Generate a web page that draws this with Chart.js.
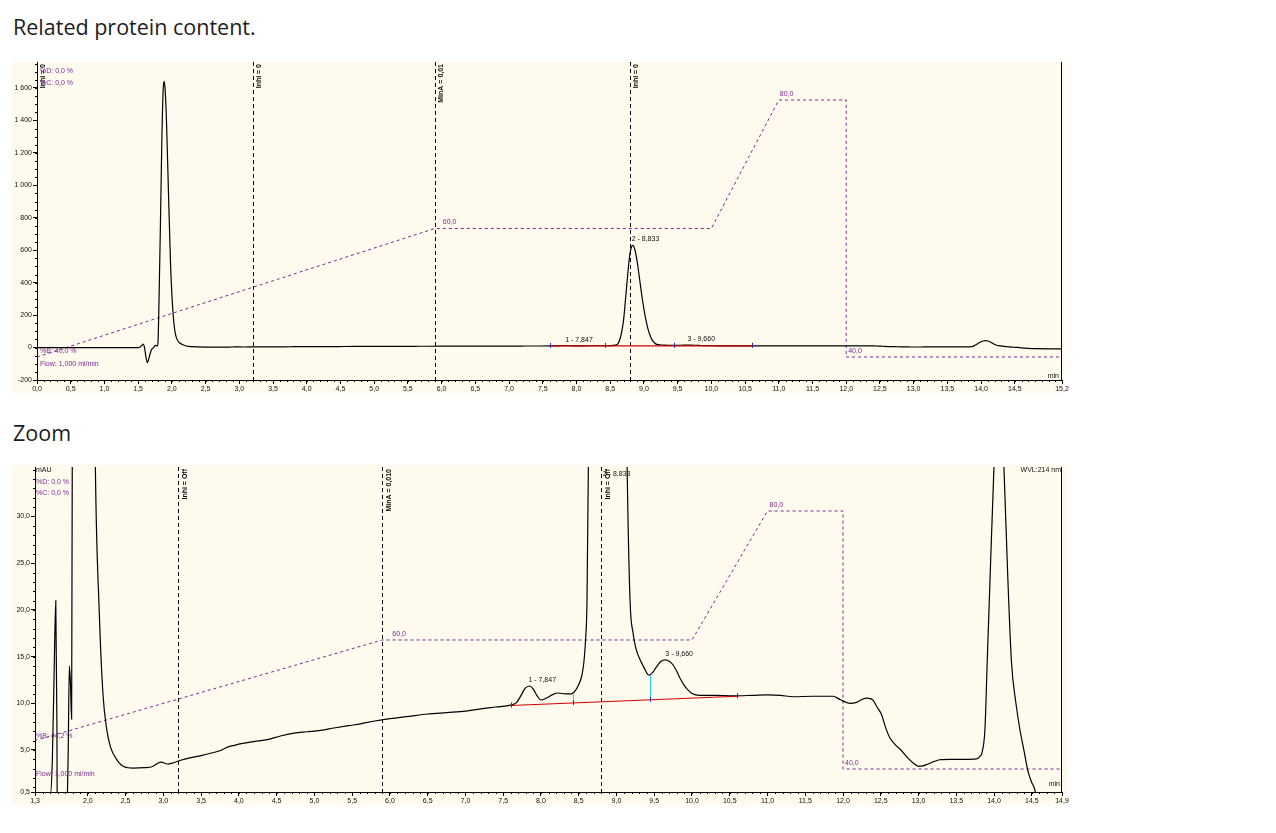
<!DOCTYPE html>
<html>
<head>
<meta charset="utf-8">
<script src="https://cdn.jsdelivr.net/npm/chart.js@4.4.1/dist/chart.umd.min.js"></script>
<style>
  body { margin: 0; background: #fff; width: 1276px; height: 833px; position: relative; overflow: hidden; }
  .title { position: absolute; left: 13px; font-family: "Open Sans", sans-serif; font-size: 21.5px; color: #1c1c1c; line-height: 28px; }
  .box { position: absolute; left: 12px; width: 1064px; }
</style>
</head>
<body>
<div class="title" style="top:13px">Related protein content.</div>
<div class="box" style="top:62px;height:331px"><canvas id="full"></canvas></div>
<div class="title" style="top:419px">Zoom</div>
<div class="box" style="top:465px;height:340px"><canvas id="zoom"></canvas></div>

<script>
// UV 214 nm trace: retention time (min) and signal (mAU)
const sigTime = [0.0, 1.50, 1.53, 1.555, 1.575, 1.59, 1.60, 1.62, 1.635, 1.65, 1.68, 1.70, 1.72, 1.74, 1.755, 1.77, 1.785,
  1.795, 1.81, 1.83, 1.85, 1.87, 1.885, 1.90, 1.92, 1.95, 1.98, 2.00, 2.03, 2.06, 2.10, 2.15, 2.20, 2.25, 2.30, 2.38, 2.48,
  2.60, 2.75, 2.85, 2.93, 2.97, 3.05, 3.12, 3.23, 3.35, 3.50, 3.65, 3.76, 3.85, 3.94, 4.05, 4.20, 4.38, 4.55, 4.73,
  4.90, 5.08, 5.26, 5.45, 5.61, 5.80, 6.00, 6.25, 6.50, 6.75, 7.00, 7.20, 7.40, 7.60, 7.68, 7.74, 7.79, 7.85, 7.90,
  7.95, 8.00, 8.08, 8.16, 8.23, 8.32, 8.40, 8.46, 8.50, 8.54, 8.57, 8.59, 8.61, 8.64, 8.67, 8.70, 8.73, 8.76, 8.79,
  8.815, 8.835, 8.86, 8.90, 8.94, 8.98, 9.02, 9.06, 9.10, 9.14, 9.18, 9.22, 9.26, 9.30, 9.36, 9.43, 9.48, 9.53, 9.59,
  9.645, 9.70, 9.75, 9.80, 9.84, 9.90, 9.95, 10.0, 10.1, 10.3, 10.55, 10.8, 11.0, 11.17, 11.34, 11.6, 11.87, 11.96,
  12.09, 12.18, 12.25, 12.31, 12.36, 12.40, 12.45, 12.51, 12.56, 12.62, 12.70, 12.76, 12.85, 12.93, 13.0, 13.06,
  13.11, 13.20, 13.28, 13.42, 13.60, 13.77, 13.81, 13.84, 13.88, 13.91, 13.95, 14.0, 14.03, 14.065, 14.10, 14.13,
  14.18, 14.23, 14.29, 14.34, 14.40, 14.45, 14.50, 14.54, 14.60, 14.70, 14.80, 15.0, 15.2];
const sigMAU = [0, 0, 4, 14, 21, 8, -15, -70, -93, -80, -35, -12, -4, 5, 14, 12, 8.3,
  40, 300, 750, 1250, 1580, 1640, 1590, 1400, 950, 520, 330, 150, 70, 35, 20, 11, 7.2, 5.3, 4.0, 3.2,
  3.05, 3.1, 3.2, 3.6, 3.7, 3.5, 3.6, 3.9, 4.15, 4.4, 4.7, 4.95, 5.3, 5.5, 5.7, 5.9, 6.1, 6.5, 6.8,
  6.95, 7.1, 7.35, 7.6, 7.8, 8.1, 8.35, 8.6, 8.85, 9.0, 9.15, 9.4, 9.6, 9.8, 10.1, 10.9, 11.6, 11.85, 11.5,
  10.8, 10.35, 10.6, 10.95, 11.1, 11.0, 11.0, 11.4, 12.0, 12.9, 14.5, 16.7, 21, 45, 95, 175, 310, 450, 570,
  620, 630, 612, 530, 410, 290, 190, 115, 65, 36, 21, 17.5, 15.8, 14.9, 13.9, 13.0, 13.3, 13.9, 14.5,
  14.65, 14.5, 14.1, 13.4, 12.7, 11.9, 11.4, 11.05, 10.85, 10.85, 10.8, 10.85, 10.9, 10.85, 10.7, 10.75, 10.75, 10.4,
  10.0, 10.1, 10.4, 10.55, 10.5, 10.3, 9.6, 8.8, 7.5, 6.3, 5.5, 5.05, 4.2, 3.6, 3.25, 3.3,
  3.45, 3.75, 3.95, 4.0, 4.0, 4.05, 4.3, 4.7, 7.3, 14.5, 24, 35.5, 40.5, 43, 40.5, 35.5,
  24, 14.5, 10, 7.3, 4.8, 2.7, 1.5, 0.75, -2, -5, -7, -8, -8];

// gradient program, %B
const gradTime = [0, 5.9, 10.0, 11.0, 12.0, 12.0, 15.2];
const gradB = [40, 60, 60, 80, 80, 40, 40];
const gradMarkTime = [5.9, 11.0, 12.0];
const gradMarkB = [60, 80, 40];
const gradMarkText = ['60,0', '80,0', '40,0'];

// integration baseline and peak delimiters
const baseTime = [7.6, 10.6];
const baseMAU = [9.76, 10.75];
const delimTime = [7.6, 8.42, 9.45, 10.6];
const delimBase = [9.76, 10.03, 10.37, 10.75];
const delimTop = [9.8, 11.0, 13.0, 10.8];

// peaks
const peakTime = [7.847, 8.833, 9.660];
const peakApex = [11.85, 630, 14.65];
const peakName = ['1 - 7,847', '2 - 8,833', '3 - 9,660'];

// program events
const eventTime = [0, 3.2, 5.9, 8.8];
const eventFull = ['Inhi = 0', 'Inhi = 0', 'MinA = 0,01', 'Inhi = 0'];
const eventZoom = ['', 'Inhi = Off', 'MinA = 0,010', 'Inhi = Off'];

// axis ticks
const fullXTicks = [0, 0.5, 1.0, 1.5, 2.0, 2.5, 3.0, 3.5, 4.0, 4.5, 5.0, 5.5, 6.0, 6.5, 7.0, 7.5, 8.0, 8.5, 9.0, 9.5,
  10.0, 10.5, 11.0, 11.5, 12.0, 12.5, 13.0, 13.5, 14.0, 14.5, 15.2];
const fullYTicks = [-200, 0, 200, 400, 600, 800, 1000, 1200, 1400, 1600];
const zoomXTicks = [1.3, 2.0, 2.5, 3.0, 3.5, 4.0, 4.5, 5.0, 5.5, 6.0, 6.5, 7.0, 7.5, 8.0, 8.5, 9.0, 9.5,
  10.0, 10.5, 11.0, 11.5, 12.0, 12.5, 13.0, 13.5, 14.0, 14.5, 14.9];
const zoomYTicks = [0.5, 5, 10, 15, 20, 25, 30];

const CREAM = '#fffaee';
const PURPLE = '#7a2a94';
const SMALL = '7px "Liberation Sans", Arial, sans-serif';
const EVFONT = 'bold 7px "Liberation Sans Narrow", "Liberation Sans", sans-serif';

function fmt1(v) { return v.toFixed(1).replace('.', ','); }
function fmtInt(v) { return String(v).replace(/\B(?=(\d{3})+(?!\d))/g, ' '); }

function text(ctx, s, x, y, color, align, font) {
    ctx.fillStyle = color || '#111';
    ctx.font = font || SMALL;
    ctx.textAlign = align || 'left';
    ctx.textBaseline = 'middle';
    ctx.fillText(s, x, y);
}

function chromPlugin(o) {
    return {
        id: 'chrom',
        beforeDraw(chart) {
            const { ctx, chartArea: a } = chart;
            ctx.save();
            ctx.fillStyle = CREAM;
            ctx.fillRect(0, 0, a.right + o.creamRight, chart.height);
            ctx.restore();
        },
        beforeDatasetsDraw(chart) {
            const { ctx, chartArea: a, scales: { x } } = chart;
            ctx.save();
            ctx.strokeStyle = '#000';
            ctx.lineWidth = 1;
            ctx.setLineDash([4, 3]);
            eventTime.forEach(t => {
                if (t <= x.min || t > x.max) return;
                const px = Math.round(x.getPixelForValue(t)) + 0.5;
                ctx.beginPath();
                ctx.moveTo(px, a.top);
                ctx.lineTo(px, a.bottom);
                ctx.stroke();
            });
            ctx.restore();
        },
        afterDatasetsDraw(chart) {
            const { ctx, chartArea: a, scales: { x, y, y2 } } = chart;
            ctx.save();
            // peak delimiters
            ctx.lineWidth = 1;
            delimTime.forEach((t, i) => {
                const px = Math.round(x.getPixelForValue(t)) + 0.5;
                const pb = y.getPixelForValue(delimBase[i]);
                if (o.cyan && i > 0 && i < delimTime.length - 1) {
                    ctx.strokeStyle = '#20d8e8';
                    ctx.beginPath();
                    ctx.moveTo(px, pb);
                    ctx.lineTo(px, y.getPixelForValue(delimTop[i]));
                    ctx.stroke();
                }
                ctx.strokeStyle = '#2a2ab0';
                ctx.beginPath();
                ctx.moveTo(px, pb - 3);
                ctx.lineTo(px, pb + 2);
                ctx.stroke();
            });
            // peak labels
            peakTime.forEach((t, i) => {
                const px = x.getPixelForValue(t);
                const py = Math.max(y.getPixelForValue(peakApex[i]) - 6, a.top + 7);
                text(ctx, peakName[i], px - 1, py, '#111');
            });
            // gradient labels
            gradMarkTime.forEach((t, i) => {
                const px = x.getPixelForValue(t) + o.gradDx[i];
                const py = y2.getPixelForValue(gradMarkB[i]) - 6;
                text(ctx, gradMarkText[i], px, py, PURPLE);
            });
            // event labels, rotated
            o.events.forEach((s, i) => {
                const t = eventTime[i];
                if (!s || t < x.min || t > x.max) return;
                ctx.save();
                ctx.translate(Math.round(x.getPixelForValue(t)) + o.evDx, a.top + 2);
                ctx.rotate(-Math.PI / 2);
                ctx.fillStyle = '#000';
                ctx.font = EVFONT;
                ctx.textAlign = 'right';
                ctx.textBaseline = 'top';
                ctx.fillText(s, 0, 0);
                ctx.restore();
            });
            // corner notes
            const bStart = y2.getPixelForValue(o.bStart);
            o.notes(a, bStart).forEach(n => text(ctx, n[0], n[1], n[2], n[3], n[4]));
            ctx.restore();
        },
        afterDraw(chart) {
            const { ctx, chartArea: a, scales: { x, y } } = chart;
            ctx.save();
            ctx.strokeStyle = '#000';
            ctx.lineWidth = 1;
            ctx.beginPath();
            // right border
            ctx.moveTo(Math.round(a.right) - 0.5, a.top);
            ctx.lineTo(Math.round(a.right) - 0.5, a.bottom);
            // minor ticks
            for (let i = Math.ceil(x.min * 10); i <= Math.floor(x.max * 10 + 1e-6); i++) {
                const px = Math.round(x.getPixelForValue(i / 10)) + 0.5;
                ctx.moveTo(px, a.bottom);
                ctx.lineTo(px, a.bottom + 2);
            }
            for (let i = Math.ceil(y.min / o.yMinor); i <= Math.floor(y.max / o.yMinor); i++) {
                const py = Math.round(y.getPixelForValue(i * o.yMinor)) + 0.5;
                ctx.moveTo(a.left - 2, py);
                ctx.lineTo(a.left, py);
            }
            ctx.stroke();
            ctx.restore();
        }
    };
}

function chromChart(id, o) {
    const tickFont = { family: '"Liberation Sans", Arial, sans-serif', size: 7 };
    return new Chart(document.getElementById(id), {
        type: 'line',
        data: {
            datasets: [
                {
                    data: baseTime.map((t, i) => ({ x: t, y: baseMAU[i] })),
                    borderColor: '#d00000', borderWidth: 1.2, pointRadius: 0, yAxisID: 'y'
                },
                {
                    data: sigTime.map((t, i) => ({ x: t, y: sigMAU[i] })),
                    borderColor: '#000', borderWidth: 1.2, pointRadius: 0, yAxisID: 'y',
                    cubicInterpolationMode: 'monotone'
                },
                {
                    data: gradTime.map((t, i) => ({ x: t, y: gradB[i] })),
                    borderColor: PURPLE, borderWidth: 1, borderDash: [3, 3], pointRadius: 0, yAxisID: 'y2'
                }
            ]
        },
        options: {
            responsive: true,
            maintainAspectRatio: false,
            animation: false,
            events: [],
            layout: { padding: o.pad },
            plugins: { legend: { display: false }, tooltip: { enabled: false } },
            scales: {
                x: {
                    type: 'linear', min: o.xMin, max: o.xMax,
                    afterBuildTicks: s => { s.ticks = o.xTicks.map(v => ({ value: v })); },
                    afterFit: s => { s.height = o.xAxisH; s.paddingLeft = 0; s.paddingRight = 0; },
                    ticks: { autoSkip: false, maxRotation: 0, font: tickFont, color: '#111', padding: 1, callback: v => fmt1(v) },
                    grid: { drawOnChartArea: false, drawTicks: true, tickLength: 4, tickColor: '#000' },
                    border: { color: '#000', width: 1 }
                },
                y: {
                    type: 'linear', min: o.yMin, max: o.yMax,
                    afterBuildTicks: s => { s.ticks = o.yTicks.map(v => ({ value: v })); },
                    afterFit: s => { s.width = o.yAxisW; s.paddingTop = 0; s.paddingBottom = 0; },
                    ticks: { autoSkip: false, font: tickFont, color: '#111', padding: 1, callback: o.yFmt },
                    grid: { drawOnChartArea: false, drawTicks: true, tickLength: 4, tickColor: '#000' },
                    border: { color: '#000', width: 1 }
                },
                y2: { type: 'linear', display: false, min: o.bMin, max: o.bMax }
            }
        },
        plugins: [chromPlugin(o)]
    });
}

chromChart('full', {
    xMin: 0, xMax: 15.2, yMin: -200, yMax: 1760, bMin: 36.42, bMax: 85.91,
    xTicks: fullXTicks, yTicks: fullYTicks, yFmt: v => fmtInt(v), yMinor: 50,
    pad: { left: 0, right: 14, top: 0, bottom: 0 }, yAxisW: 25, xAxisH: 13, creamRight: 2,
    events: eventFull, evDx: 3, cyan: false, gradDx: [8, 1, 2], bStart: 40,
    notes: (a, b) => [
        ['%D: 0,0 %', a.left + 3, a.top + 9, PURPLE],
        ['%C: 0,0 %', a.left + 3, a.top + 21, PURPLE],
        ['%B: 40,0 %', a.left + 3, b - 6, PURPLE],
        ['Flow: 1,000 ml/min', a.left + 3, a.bottom - 16, PURPLE],
        ['min', a.right - 3, a.bottom - 4, '#111', 'right']
    ]
});

chromChart('zoom', {
    xMin: 1.3, xMax: 14.9, yMin: 0.5, yMax: 35.3, bMin: 36.43, bMax: 86.82,
    xTicks: zoomXTicks, yTicks: zoomYTicks, yFmt: v => fmt1(v), yMinor: 1,
    pad: { left: 0, right: 14, top: 2, bottom: 0 }, yAxisW: 23, xAxisH: 13, creamRight: 6,
    events: eventZoom, evDx: 4, cyan: true, gradDx: [10, 2, 2], bStart: 44.4,
    notes: (a, b) => [
        ['mAU', a.left + 1, a.top + 3, '#111'],
        ['%D: 0,0 %', a.left + 1, a.top + 15, PURPLE],
        ['%C: 0,0 %', a.left + 1, a.top + 26, PURPLE],
        ['%B: 44,2 %', a.left + 1, b - 5, PURPLE],
        ['Flow: 1,000 ml/min', a.left + 1, a.bottom - 18, PURPLE],
        ['WVL:214 nm', a.right - 1, a.top + 3, '#111', 'right'],
        ['min', a.right - 2, a.bottom - 8, '#111', 'right']
    ]
});
</script>
</body>
</html>
